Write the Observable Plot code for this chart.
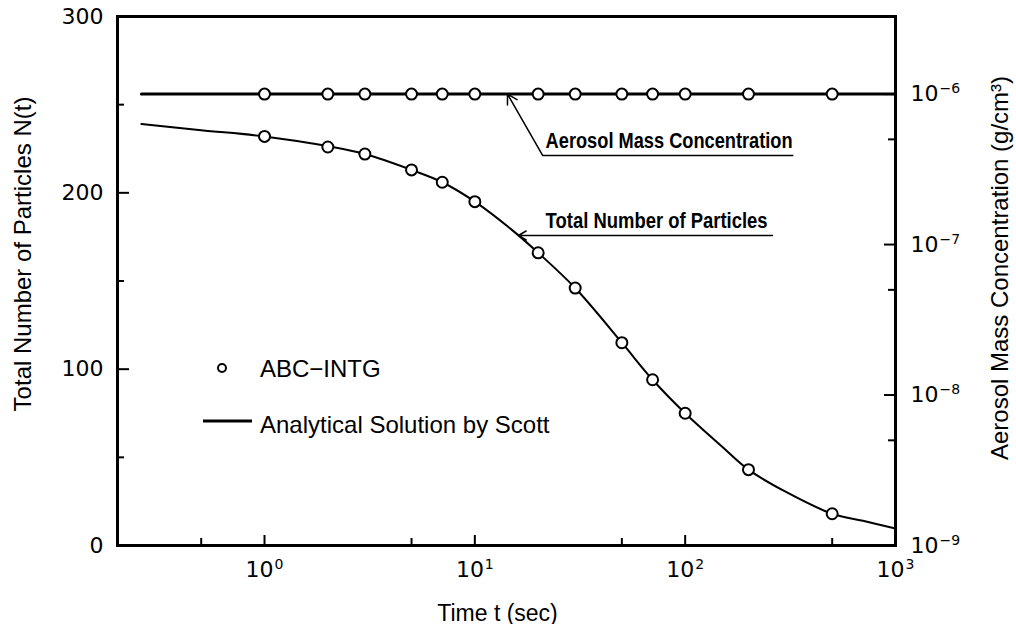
<!DOCTYPE html>
<html><head><meta charset="utf-8">
<script src="https://cdn.jsdelivr.net/npm/d3@7"></script>
<script src="https://cdn.jsdelivr.net/npm/@observablehq/plot@0.6"></script>
<style>
html,body{margin:0;padding:0;background:#fff;}
#wrap{width:1016px;height:624px;}
</style></head><body><div id="wrap"></div>
<script>
// ABC-INTG points
const timeDots = [1, 2, 3, 5, 7, 10, 20, 30, 50, 70, 100, 200, 500];
const numberDots = [232, 226, 222, 213, 206, 195, 166, 146, 115, 94, 75, 43, 18];
const massDots = [1e-6, 1e-6, 1e-6, 1e-6, 1e-6, 1e-6, 1e-6, 1e-6, 1e-6, 1e-6, 1e-6, 1e-6, 1e-6];
// Analytical solution by Scott
const timeCurve = [0.26, 0.5, 1, 2, 3, 5, 7, 10, 15, 20, 30, 50, 70, 100, 150, 200, 300, 500, 700, 1000];
const numberCurve = [239, 235.5, 232, 226.5, 222, 213, 206, 195, 179, 166, 146, 115, 94, 75, 56, 43, 30.5, 18, 14, 9.6];
const massLineTime = [0.26, 1000];
const massLineValue = [1e-6, 1e-6];
// axes
const numberTicks = [0, 100, 200, 300];
const numberMinorTicks = [50, 150, 250];
const timeTicks = [1, 10, 100, 1000];
const timeTickLabels = ["10⁰", "10¹", "10²", "10³"];
const timeMinorTicks = [0.5, 5, 50, 500];
const massTicks = [1e-9, 1e-8, 1e-7, 1e-6];
const massTickLabels = ["10⁻⁹", "10⁻⁸", "10⁻⁷", "10⁻⁶"];
const massMinorTicks = [5e-9, 5e-8, 5e-7];
// secondary (right) axis: log scale, 1e-9 at N=0, 1e-6 at N=256
const massBase = 1e-9, massRef = 1e-6, massRefN = 256;
const massToN = m => (Math.log10(m) - Math.log10(massBase)) / (Math.log10(massRef) - Math.log10(massBase)) * massRefN;
const massTicksN = massTicks.map(massToN);

// annotation anchors (data space)
const aerosolNote = {text: "Aerosol Mass Concentration", tipT: 14.3, elbowT: 21, endT: 327, lineN: 221.2, textT: 21.7, baseN: 225.5};
const numberNote = {text: "Total Number of Particles", tipT: 16.1, endT: 260, lineN: 175.8, textT: 21.7, baseN: 180};

const W = 1016, H = 624, mL = 117, mR = 121, mT = 16, mB = 79;
const pw = W - mL - mR, ph = H - mT - mB;

const curve = timeCurve.map((t, i) => ({t, n: numberCurve[i]}));
const dots = timeDots.map((t, i) => ({t, n: numberDots[i], m: massDots[i]}));
const massLine = massLineTime.map((t, i) => ({t, m: massLineValue[i]}));

const noteFont = {fontFamily: "'Liberation Sans Narrow', 'Arial Narrow', 'Liberation Sans', sans-serif", fontWeight: "bold", fontSize: 22};
const titleFont = {fontFamily: "'Liberation Sans', sans-serif", fontSize: 24};

const chart = Plot.plot({
  width: W, height: H,
  marginLeft: mL, marginRight: mR, marginTop: mT, marginBottom: mB,
  style: {fontFamily: "'DejaVu Sans', sans-serif", fontSize: "21px", color: "#000", background: "#fff"},
  x: {type: "log", domain: [0.2, 1000]},
  y: {domain: [0, 300]},
  marks: [
    // data
    Plot.line(massLine, {x: "t", y: d => massToN(d.m), stroke: "#000", strokeWidth: 3}),
    Plot.line(curve, {x: "t", y: "n", curve: "catmull-rom", stroke: "#000", strokeWidth: 2}),
    Plot.dot(dots, {x: "t", y: d => massToN(d.m), r: 5.5, fill: "#fff", stroke: "#000", strokeWidth: 2}),
    Plot.dot(dots, {x: "t", y: "n", r: 5.5, fill: "#fff", stroke: "#000", strokeWidth: 2}),
    // annotations
    Plot.arrow([aerosolNote], {x1: "elbowT", y1: "lineN", x2: "tipT", y2: () => massToN(massRef), stroke: "#000", strokeWidth: 1.5, headLength: 11, bend: 0}),
    Plot.link([aerosolNote], {x1: "elbowT", y1: "lineN", x2: "endT", y2: "lineN", stroke: "#000", strokeWidth: 1.5}),
    Plot.text([aerosolNote], {x: "textT", y: "baseN", text: "text", textAnchor: "start", lineAnchor: "bottom", ...noteFont}),
    Plot.arrow([numberNote], {x1: "endT", y1: "lineN", x2: "tipT", y2: "lineN", stroke: "#000", strokeWidth: 1.5, headLength: 9}),
    Plot.text([numberNote], {x: "textT", y: "baseN", text: "text", textAnchor: "start", lineAnchor: "bottom", ...noteFont}),
    // frame & ticks (inward)
    Plot.frame({stroke: "#000", strokeWidth: 3}),
    Plot.tickY(numberTicks, {y: d => d, insetRight: pw - 12, strokeWidth: 2}),
    Plot.tickY(numberMinorTicks, {y: d => d, insetRight: pw - 7, strokeWidth: 2}),
    Plot.tickY(massTicksN, {y: d => d, insetLeft: pw - 11, strokeWidth: 2}),
    Plot.tickY(massMinorTicks.map(massToN), {y: d => d, insetLeft: pw - 7, strokeWidth: 2}),
    Plot.tickX(timeTicks, {x: d => d, insetTop: ph - 10, strokeWidth: 2}),
    Plot.tickX(timeMinorTicks, {x: d => d, insetTop: ph - 7, strokeWidth: 2}),
    // axis labels
    Plot.axisY({anchor: "left", ticks: numberTicks, tickSize: 0, tickPadding: 14, label: null, fontSize: 22}),
    Plot.axisY({anchor: "right", ticks: massTicksN, tickFormat: d => massTickLabels[massTicksN.indexOf(d)], tickSize: 0, tickPadding: 15, label: null, fontSize: 22}),
    Plot.axisX({anchor: "bottom", ticks: timeTicks, tickFormat: d => timeTickLabels[timeTicks.indexOf(d)], tickSize: 0, tickPadding: 16, label: null, fontSize: 22}),
    // axis titles
    Plot.text(["Total Number of Particles N(t)"], {frameAnchor: "left", textAnchor: "middle", lineAnchor: "middle", dx: -94, dy: -27, rotate: -90, ...titleFont}),
    Plot.text(["Aerosol Mass Concentration (g/cm³)"], {frameAnchor: "right", textAnchor: "middle", lineAnchor: "middle", dx: 105, dy: -13, rotate: -90, ...titleFont}),
    Plot.text(["Time t (sec)"], {frameAnchor: "bottom", textAnchor: "middle", lineAnchor: "bottom", dx: -9, dy: 75, ...titleFont, fontSize: 23})
  ]
});

document.getElementById("wrap").appendChild(chart);

const svg = d3.select(chart);
const supMap = {"⁰":"0","¹":"1","²":"2","³":"3","⁴":"4","⁵":"5","⁶":"6","⁷":"7","⁸":"8","⁹":"9","⁻":"−"};
svg.selectAll("text").each(function() {
  const s = this.textContent;
  // condensed width of annotation labels
  if (s === aerosolNote.text) { this.setAttribute("textLength", 247); this.setAttribute("lengthAdjust", "spacingAndGlyphs"); }
  if (s === numberNote.text) { this.setAttribute("textLength", 222); this.setAttribute("lengthAdjust", "spacingAndGlyphs"); }
  // power-of-ten tick labels: real superscripts
  const m = /^10([⁻⁰¹²³⁴⁵⁶⁷⁸⁹]+)$/.exec(s);
  if (m) {
    const exp = [...m[1]].map(c => supMap[c]).join("");
    const el = d3.select(this);
    const tsp = el.select("tspan");
    const target = tsp.empty() ? el : tsp;
    target.text("10");
    target.append("tspan").attr("dy", "-8").attr("dx", "1").attr("font-size", "14px").text(exp);
  }
});

// legend (inside the plot area)
const lg = svg.append("g").attr("font-family", "'Liberation Sans', sans-serif").attr("font-size", 24).attr("fill", "#000").attr("text-anchor", "start");
lg.append("circle").attr("cx", 222).attr("cy", 368).attr("r", 4).attr("fill", "#fff").attr("stroke", "#000").attr("stroke-width", 2);
lg.append("text").attr("x", 260).attr("y", 377).text("ABC−INTG");
lg.append("line").attr("x1", 203).attr("x2", 252).attr("y1", 421).attr("y2", 421).attr("stroke", "#000").attr("stroke-width", 3);
lg.append("text").attr("x", 260).attr("y", 433).text("Analytical Solution by Scott");
</script>
</body></html>
